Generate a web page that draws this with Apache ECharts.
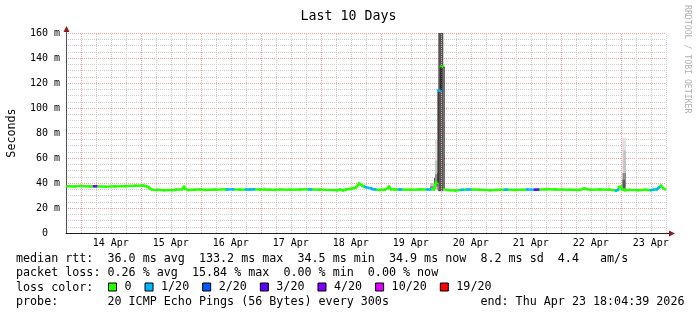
<!DOCTYPE html>
<html><head><meta charset="utf-8">
<script src="https://cdn.jsdelivr.net/npm/echarts@6/dist/echarts.min.js"></script>
<style>html,body{margin:0;padding:0;background:#fff}#c{width:697px;height:315px}</style>
</head><body><div id="c"></div>
<script>
// time in hours since 13 Apr 2026 00:00
const windowStart = 18.08;
const windowEnd = 258.08;
const dayLabelHours = [36, 60, 84, 108, 132, 156, 180, 204, 228, 252];
const dayLabels = ['14 Apr', '15 Apr', '16 Apr', '17 Apr', '18 Apr', '19 Apr', '20 Apr', '21 Apr', '22 Apr', '23 Apr'];
const midnightHours = [24, 48, 72, 96, 120, 144, 168, 192, 216, 240];
const sixHourHours = [30, 36, 42, 54, 60, 66, 78, 84, 90, 102, 108, 114, 126, 132, 138, 150, 156, 162, 174, 180, 186, 198, 204, 210, 222, 228, 234, 246, 252, 258];

// median rtt (ms) and lost pings (out of 20)
const medianHour = [18.5, 21.7, 23.7, 27.7, 29.3, 30.1, 33.7, 37.7, 41.7, 45.7, 48.9, 50.1, 50.9, 51.7, 52.5, 54.9, 57.3, 60.5, 62.1, 64.5, 65.3, 65.7, 66.9, 69.7, 71.7, 73.7, 77.7, 81.7, 82.5, 84.9, 87.7, 90.1, 91.3, 92.1, 93.3, 95.7, 99.7, 101.7, 103.7, 107.7, 111.7, 115.3, 116.1, 119.7, 126.5, 127.7, 128.9, 130.1, 131.7, 132.5, 134.1, 135.3, 136.1, 136.9, 137.7, 140.1, 140.5, 141.7, 143.7, 145.7, 146.9, 147.3, 148.1, 149.7, 151.3, 152.1, 155.7, 159.7, 162.5, 163.7, 165.3, 165.7, 166.1, 166.5, 166.9, 167.7, 168.1, 168.9, 169.3, 171.7, 173.7, 176.1, 176.9, 178.5, 179.7, 183.7, 187.7, 191.7, 193.7, 194.5, 197.7, 202.5, 205.7, 206.9, 209.7, 213.7, 219.7, 223.7, 225.3, 226.1, 227.7, 231.7, 235.7, 238.1, 238.9, 239.3, 240.1, 240.5, 241.7, 243.7, 246.9, 249.7, 252.1, 253.3, 254.5, 255.3, 256.1, 256.9, 257.7];
const medianRtt = [37.4, 37.2, 37.6, 37.3, 37.4, 37.4, 37.0, 37.3, 37.5, 37.8, 37.9, 37.5, 36.8, 35.6, 34.7, 34.5, 34.2, 34.3, 34.7, 35.0, 37.0, 35.5, 34.4, 34.6, 34.9, 34.5, 34.7, 34.9, 34.8, 34.9, 34.7, 34.8, 34.8, 34.8, 34.9, 34.8, 34.7, 34.4, 34.8, 34.7, 34.8, 34.9, 34.8, 34.7, 34.2, 34.8, 34.2, 34.8, 35.2, 35.5, 36.5, 39.5, 38.5, 37.5, 36.8, 35.7, 35.2, 34.8, 34.5, 34.7, 36.0, 37.0, 35.0, 34.8, 34.8, 34.8, 34.7, 34.8, 34.8, 34.8, 35.0, 38.0, 40.2, 40.2, 114, 114, 133, 133, 34.8, 34.3, 34.0, 34.5, 34.6, 34.8, 34.8, 34.7, 34.3, 34.6, 34.6, 34.7, 34.5, 34.8, 34.6, 34.7, 35.0, 34.8, 34.6, 34.4, 35.6, 35.2, 34.6, 34.8, 34.6, 34.0, 34.5, 36.8, 37.0, 34.8, 34.2, 34.5, 34.3, 34.6, 34.3, 34.6, 35.0, 36.5, 37.8, 36.0, 34.9];
const medianLoss = [0, 0, 0, 0, 4, 0, 0, 0, 0, 0, 0, 0, 0, 0, 0, 0, 0, 0, 0, 0, 0, 0, 0, 0, 0, 0, 0, 0, 1, 0, 0, 1, 0, 1, 0, 0, 0, 0, 0, 0, 0, 1, 0, 0, 0, 0, 0, 0, 0, 0, 0, 0, 0, 0, 1, 1, 1, 0, 0, 0, 0, 0, 0, 0, 1, 0, 0, 0, 1, 0, 0, 0, 0, 0, 1, 1, 0, 0, 0, 0, 0, 1, 0, 1, 0, 0, 0, 0, 1, 0, 0, 1, 3, 0, 0, 0, 0, 0, 0, 0, 0, 0, 0, 1, 0, 0, 0, 0, 0, 0, 0, 0, 1, 0, 1, 0, 0, 0, 0];

// smoke (spread of the 20 pings): time span, low, high, band (1 = outer ... 4 = inner)
const smokeFrom = [47.7, 96.9, 134.9, 143.7, 158.1, 163.7, 163.7, 165.3, 165.7, 165.7, 165.7, 165.7, 166.7, 167.0, 210.1, 215.7, 234.9, 240.4, 241.0, 240.7, 240.7, 252.5];
const smokeTo   = [49.3, 98.1, 138.1, 145.3, 161.3, 165.3, 165.3, 165.7, 166.7, 166.7, 166.7, 166.7, 167.0, 169.0, 211.7, 217.3, 235.7, 242.1, 242.1, 242.1, 241.7, 255.7];
const smokeLow  = [37.5, 35.0, 37.0, 35.0, 35.0, 35.0, 35.0, 34.8, 35.0, 35.0, 37.0, 38.0, 34.0, 33.5, 35.0, 35.0, 35.0, 35.0, 35.0, 35.0, 36.0, 35.0];
const smokeHigh = [40.0, 36.8, 39.5, 36.5, 36.0, 40.0, 37.5, 44.0, 74.5, 58.0, 47.0, 41.0, 48.0, 170, 37.0, 36.5, 38.5, 76.0, 66.0, 48.0, 42.5, 37.0];
const smokeBand = [1, 1, 1, 1, 1, 2, 3, 4, 1, 2, 3, 4, 4, 4, 1, 1, 1, 1, 2, 3, 4, 1];

const lossClasses = [0, 1, 2, 3, 4, 10, 19];
const lossNames = ['0', '1/20', '2/20', '3/20', '4/20', '10/20', '19/20'];
const lossColors = ['#26ff00', '#00b8ff', '#0059ff', '#5e00ff', '#7e00ff', '#dd00ff', '#ff0000'];
const bandColors = ['#e2e2e2', '#c4c4c4', '#8e8e8e', '#555555'];

const legendLines = [
  'median rtt:  36.0 ms avg  133.2 ms max  34.5 ms min  34.9 ms now  8.2 ms sd  4.4   am/s',
  'packet loss: 0.26 % avg  15.84 % max  0.00 % min  0.00 % now',
  'loss color:',
  'probe:       20 ICMP Echo Pings (56 Bytes) every 300s             end: Thu Apr 23 18:04:39 2026'
];

const MONO = '"DejaVu Sans Mono", monospace';
const chart = echarts.init(document.getElementById('c'), null, {renderer: 'canvas'});

function clampY(y, cs) { return Math.max(cs.y, Math.min(cs.y + cs.height, y)); }

function medianRender(params, api) {
  const cs = params.coordSys;
  const p0 = api.coord([api.value(0), api.value(1)]);
  const p1 = api.coord([api.value(2), api.value(3)]);
  p0[1] = clampY(p0[1], cs); p1[1] = clampY(p1[1], cs);
  const color = api.visual('color');
  if (Math.abs(p1[1] - p0[1]) > 6) {
    return {type: 'group', children: [
      {type: 'line', shape: {x1: p0[0], y1: p0[1], x2: p1[0], y2: p0[1]}, style: {stroke: color, lineWidth: 2.5}},
      {type: 'line', shape: {x1: p1[0], y1: p0[1], x2: p1[0], y2: p1[1]}, style: {stroke: '#000', lineWidth: 1}}
    ]};
  }
  return {type: 'line', shape: {x1: p0[0], y1: p0[1], x2: p1[0], y2: p1[1]}, style: {stroke: color, lineWidth: 2.5, lineCap: 'square'}};
}

function smokeRender(params, api) {
  const cs = params.coordSys;
  const a = api.coord([api.value(0), api.value(3)]);
  const b = api.coord([api.value(1), api.value(2)]);
  const y0 = clampY(a[1], cs), y1 = clampY(b[1], cs);
  return {type: 'rect', shape: {x: a[0], y: y0, width: b[0] - a[0], height: y1 - y0},
    style: {fill: bandColors[api.value(4) - 1]}};
}

const smokeData = smokeFrom.map((f, i) => [f, smokeTo[i], smokeLow[i], smokeHigh[i], smokeBand[i]]);

const medianSeries = lossClasses.map((cls, k) => {
  const data = [];
  for (let i = 0; i < medianHour.length - 1; i++) {
    if (medianLoss[i] === cls) data.push([medianHour[i], medianRtt[i], medianHour[i + 1], medianRtt[i + 1]]);
  }
  return {
    name: lossNames[k], type: 'custom', renderItem: medianRender, data: data,
    encode: {x: [0, 2], y: [1, 3]}, itemStyle: {color: lossColors[k]}, z: 5, silent: true
  };
});

const gridMarks = [];
sixHourHours.forEach(h => { if (midnightHours.indexOf(h) < 0) gridMarks.push({xAxis: h, lineStyle: {color: '#cdcdcd', type: [1, 1], width: 1}}); });
midnightHours.forEach(h => gridMarks.push({xAxis: h, lineStyle: {color: '#f0a0a0', type: [1, 1], width: 1}}));

chart.setOption({
  backgroundColor: '#ffffff',
  animation: false,
  title: {text: 'Last 10 Days', left: 'center', top: 5,
    textStyle: {fontFamily: MONO, fontSize: 13.3, fontWeight: 'normal', color: '#000'}},
  grid: {left: 66, right: 31, top: 33, bottom: 82, containLabel: false, outerBoundsMode: 'none'},
  legend: {
    data: lossNames, left: 108, top: 281, padding: 0, icon: 'rect', itemWidth: 8, itemHeight: 8, itemGap: 13,
    selectedMode: false, itemStyle: {borderColor: '#000', borderWidth: 1},
    textStyle: {fontFamily: MONO, fontSize: 11.7, color: '#000', padding: [0, 0, 0, 3]}
  },
  xAxis: {
    type: 'value', min: windowStart, max: windowEnd,
    axisLine: {show: true, lineStyle: {color: '#202020', width: 1}},
    axisTick: {show: false},
    splitLine: {show: false},
    axisLabel: {
      customValues: dayLabelHours, margin: 5,
      fontFamily: MONO, fontSize: 10, color: '#000',
      formatter: v => dayLabels[dayLabelHours.indexOf(v)] || ''
    }
  },
  yAxis: {
    type: 'value', min: 0, max: 160, interval: 20,
    name: 'Seconds', nameLocation: 'middle', nameGap: 48, nameRotate: 90,
    nameTextStyle: {fontFamily: MONO, fontSize: 11.7, color: '#000'},
    axisLine: {show: true, lineStyle: {color: '#505050', width: 1}},
    axisTick: {show: false},
    axisLabel: {margin: 6, fontFamily: MONO, fontSize: 10, color: '#000',
      formatter: v => v === 0 ? '0  ' : v + ' m'},
    splitLine: {show: true, lineStyle: {color: '#f0a0a0', type: [1, 1], width: 1}},
    minorTick: {show: false, splitNumber: 4},
    minorSplitLine: {show: true, lineStyle: {color: '#cdcdcd', type: [1, 1], width: 1}}
  },
  series: [
    {name: 'smoke', type: 'custom', renderItem: smokeRender, data: smokeData,
      encode: {x: [0, 1], y: [2, 3]}, z: 2, silent: true},
    {name: 'grid', type: 'line', data: [], z: 3, silent: true,
      markLine: {silent: true, symbol: ['none', 'none'], label: {show: false}, animation: false, data: gridMarks}}
  ].concat(medianSeries)
});

const pTop = chart.convertToPixel({gridIndex: 0}, [windowStart, 160]);
const pRight = chart.convertToPixel({gridIndex: 0}, [windowEnd, 0]);
const ax = Math.round(pTop[0]) + 0.5;
const ay = Math.round(pRight[1]) + 0.5;
const topY = Math.round(pTop[1]);
const rightX = Math.round(pRight[0]);
const graphics = [
  {type: 'line', shape: {x1: ax, y1: topY, x2: ax, y2: topY - 3}, style: {stroke: '#505050', lineWidth: 1}},
  {type: 'polygon', shape: {points: [[ax, topY - 7], [ax - 3, topY - 1], [ax + 3, topY - 1]]}, style: {fill: '#8b1a1a'}},
  {type: 'line', shape: {x1: rightX, y1: ay, x2: rightX + 4, y2: ay}, style: {stroke: '#202020', lineWidth: 1}},
  {type: 'polygon', shape: {points: [[rightX + 9, ay], [rightX + 3, ay - 3], [rightX + 3, ay + 3]]}, style: {fill: '#8b1a1a'}},
  {type: 'text', x: 687, y: 5, rotation: -Math.PI / 2,
    style: {text: 'RRDTOOL / TOBI OETIKER', fill: '#b0b0b0', font: '8.2px ' + MONO, textAlign: 'left', textVerticalAlign: 'middle'}}
];
const lineY = [259, 273.3, 287.5, 301.8];
legendLines.forEach((t, i) => graphics.push({type: 'text', x: 16, y: lineY[i],
  style: {text: t, fill: '#000', font: '11.7px ' + MONO, textAlign: 'left', textVerticalAlign: 'middle'}}));
chart.setOption({graphic: graphics});
</script>
</body></html>
